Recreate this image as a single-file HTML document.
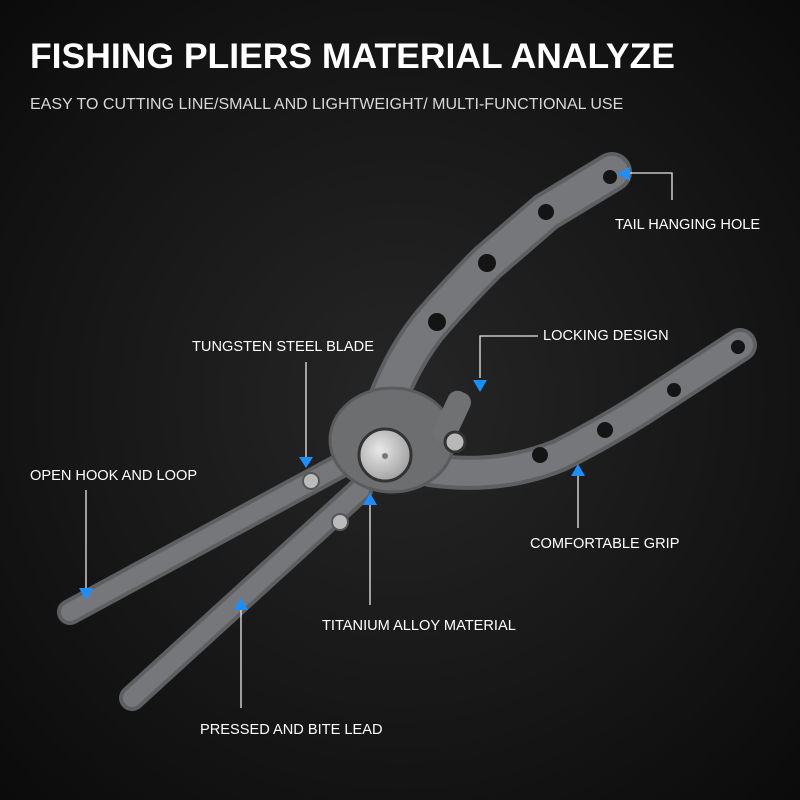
<!DOCTYPE html>
<html><head><meta charset="utf-8"><style>
html,body{margin:0;padding:0;background:#111}
svg{display:block}
text{font-family:"Liberation Sans",sans-serif;fill:#fff}
</style></head><body>
<svg width="800" height="800" viewBox="0 0 800 800" xmlns="http://www.w3.org/2000/svg">
<defs>
<radialGradient id="bg" cx="0.5" cy="0.5" r="0.7">
<stop offset="0" stop-color="#262626"/><stop offset="0.6" stop-color="#161616"/><stop offset="1" stop-color="#0b0b0b"/>
</radialGradient>
<radialGradient id="hub" cx="0.4" cy="0.4" r="0.7">
<stop offset="0" stop-color="#e8e8e8"/><stop offset="1" stop-color="#9a9a9a"/>
</radialGradient>
</defs>
<rect width="800" height="800" fill="url(#bg)"/>

<text x="30" y="68" font-size="35.5" font-weight="bold">FISHING PLIERS MATERIAL ANALYZE</text>
<text x="30" y="109" font-size="16" style="fill:#d8d8d8">EASY TO CUTTING LINE/SMALL AND LIGHTWEIGHT/ MULTI-FUNCTIONAL USE</text>

<!-- pliers -->
<g stroke="#5e5f61" fill="none" stroke-linecap="round" stroke-linejoin="round">
<path d="M380,420 Q400,360 432,322 Q460,290 487,263 L546,212 L612,172" stroke-width="40"/>
<path d="M430,470 Q500,480 560,455 Q600,435 640,410 L740,345" stroke-width="34"/>
<path d="M360,455 L70,612" stroke-width="26"/>
<path d="M360,490 L132,698" stroke-width="26"/>
</g>
<g stroke="#76777a" fill="none" stroke-linecap="round" stroke-linejoin="round">
<path d="M380,420 Q400,360 432,322 Q460,290 487,263 L546,212 L612,172" stroke-width="32"/>
<path d="M430,470 Q500,480 560,455 Q600,435 640,410 L740,345" stroke-width="26"/>
<path d="M360,455 L70,612" stroke-width="18"/>
<path d="M360,490 L132,698" stroke-width="18"/>
</g>
<ellipse cx="392" cy="440" rx="62" ry="52" fill="#6d6e70" stroke="#5a5b5d" stroke-width="3"/>
<rect x="440" y="390" width="24" height="55" rx="10" fill="#707173" transform="rotate(25 452 417)"/>
<circle cx="455" cy="442" r="10" fill="#b8b8b8" stroke="#333" stroke-width="3"/>
<circle cx="385" cy="455" r="26" fill="url(#hub)" stroke="#333" stroke-width="3"/>
<circle cx="385" cy="456" r="3" fill="#777"/>
<circle cx="311" cy="481" r="8" fill="#bbb" stroke="#555" stroke-width="2"/>
<circle cx="340" cy="522" r="8" fill="#bbb" stroke="#555" stroke-width="2"/>
<g fill="#141414">
<circle cx="437" cy="322" r="9"/><circle cx="487" cy="263" r="9"/><circle cx="546" cy="212" r="8"/><circle cx="610" cy="177" r="7"/>
<circle cx="540" cy="455" r="8"/><circle cx="605" cy="430" r="8"/><circle cx="674" cy="390" r="7"/><circle cx="738" cy="347" r="7"/>
</g>

<!-- callouts -->
<g stroke="#e8e8e8" stroke-width="1.3" fill="none">
<path d="M630,173 L672,173 L672,200"/>
<path d="M538,336 L480,336 L480,378"/>
<path d="M306,362 L306,458"/>
<path d="M86,490 L86,588"/>
<path d="M578,476 L578,528"/>
<path d="M370,505 L370,605"/>
<path d="M241,610 L241,708"/>
</g>
<g fill="#1a8fff">
<polygon points="617,174 630,167 630,181"/>
<polygon points="480,392 473,380 487,380"/>
<polygon points="306,468 299,457 313,457"/>
<polygon points="86,600 79,588 93,588"/>
<polygon points="578,464 571,476 585,476"/>
<polygon points="370,493 363,505 377,505"/>
<polygon points="241,598 234,610 248,610"/>
</g>
<g font-size="14.6">
<text x="615" y="229">TAIL HANGING HOLE</text>
<text x="543" y="340">LOCKING DESIGN</text>
<text x="192" y="351">TUNGSTEN STEEL BLADE</text>
<text x="30" y="480">OPEN HOOK AND LOOP</text>
<text x="530" y="548">COMFORTABLE GRIP</text>
<text x="322" y="630">TITANIUM ALLOY MATERIAL</text>
<text x="200" y="734">PRESSED AND BITE LEAD</text>
</g>
</svg>
</body></html>
